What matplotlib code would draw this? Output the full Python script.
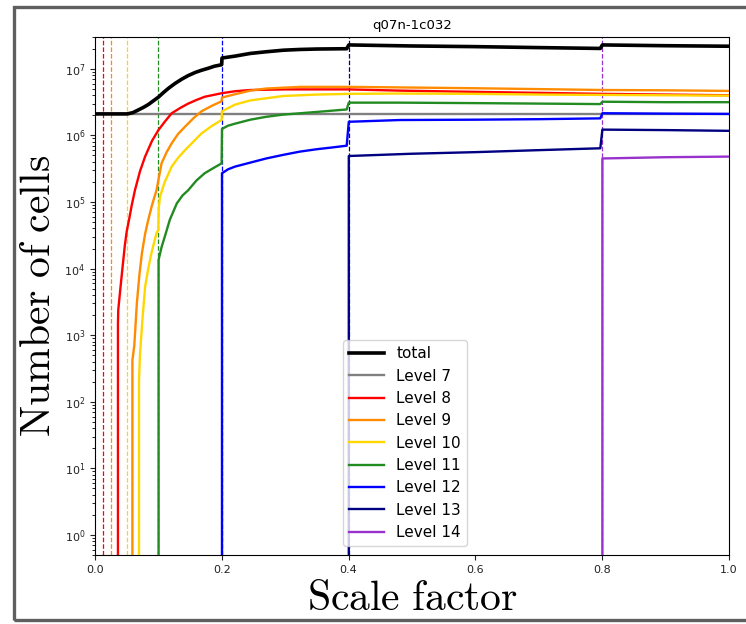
import matplotlib
matplotlib.use("Agg")
import matplotlib.pyplot as plt
from matplotlib.patches import Rectangle

plt.rcParams['mathtext.fontset'] = 'cm'

title = "q07n-1c032"

# scale factor / number of cells for each series
total_a = [0.0, 0.050, 0.053, 0.060, 0.068, 0.076, 0.084, 0.092, 0.100, 0.108, 0.116,
           0.126, 0.137, 0.147, 0.158, 0.168, 0.179, 0.188, 0.1997, 0.2003, 0.221,
           0.245, 0.270, 0.297, 0.323, 0.350, 0.397,
           0.4003, 0.500, 0.600, 0.700, 0.797, 0.8003, 0.900, 1.000]
total_n = [2.1e6, 2.1e6, 2.12e6, 2.2e6, 2.4e6, 2.62e6, 2.9e6, 3.3e6, 3.75e6, 4.4e6, 5.1e6,
           6.0e6, 7.0e6, 7.9e6, 8.8e6, 9.5e6, 1.02e7, 1.09e7, 1.15e7, 1.45e7, 1.55e7,
           1.7e7, 1.8e7, 1.9e7, 1.95e7, 1.98e7, 2.0e7,
           2.28e7, 2.2e7, 2.15e7, 2.08e7, 2.02e7, 2.28e7, 2.22e7, 2.18e7]

l7_a = [0.0, 1.0]
l7_n = [2.097e6, 2.097e6]

l8_a = [0.0, 0.0355, 0.0362, 0.0367, 0.040, 0.043, 0.047, 0.050, 0.054, 0.058, 0.063,
        0.071, 0.079, 0.090, 0.100, 0.110, 0.121, 0.135, 0.147, 0.160, 0.173, 0.187,
        0.200, 0.221, 0.245, 0.300, 0.350, 0.400, 0.480, 0.600, 0.700, 0.800, 0.900, 1.000]
l8_n = [0, 0, 1.5e3, 2.4e3, 5.0e3, 9.5e3, 2.2e4, 3.6e4, 5.6e4, 9.0e4, 1.5e5,
        2.9e5, 4.8e5, 8.3e5, 1.2e6, 1.6e6, 2.15e6, 2.6e6, 3.0e6, 3.4e6, 3.8e6, 4.05e6,
        4.3e6, 4.6e6, 4.8e6, 4.9e6, 4.9e6, 4.9e6, 4.7e6, 4.5e6, 4.35e6, 4.2e6, 4.1e6, 4.0e6]

l9_a = [0.0, 0.0585, 0.0590, 0.062, 0.066, 0.070, 0.074, 0.079, 0.084, 0.090, 0.097,
        0.105, 0.113, 0.121, 0.131, 0.142, 0.155, 0.168, 0.185, 0.1997, 0.2003, 0.221,
        0.245, 0.270, 0.324, 0.400, 0.480, 0.600, 0.700, 0.800, 0.900, 1.000]
l9_n = [0, 0, 4.2e2, 7.0e2, 3.0e3, 8.0e3, 1.7e4, 3.3e4, 5.4e4, 9.0e4, 1.5e5,
        3.8e5, 5.6e5, 7.6e5, 1.05e6, 1.35e6, 1.8e6, 2.3e6, 2.8e6, 3.25e6, 3.7e6, 4.15e6,
        4.7e6, 5.05e6, 5.35e6, 5.35e6, 5.25e6, 5.1e6, 4.95e6, 4.8e6, 4.75e6, 4.65e6]

l10_a = [0.0, 0.0690, 0.0694, 0.071, 0.075, 0.079, 0.084, 0.089, 0.097, 0.0999, 0.1005,
         0.1025, 0.110, 0.121, 0.131, 0.142, 0.155, 0.168, 0.185, 0.1997, 0.2003, 0.221,
         0.245, 0.297, 0.350, 0.400, 0.480, 0.600, 0.700, 0.800, 0.900, 1.000]
l10_n = [0, 0, 2.1e2, 5.2e2, 1.8e3, 5.3e3, 1.0e4, 1.7e4, 3.4e4, 3.8e4, 8.0e4,
         1.2e5, 2.0e5, 3.4e5, 4.6e5, 6.0e5, 8.0e5, 1.07e6, 1.4e6, 1.7e6, 2.3e6, 2.9e6,
         3.35e6, 3.9e6, 4.1e6, 4.2e6, 4.25e6, 4.2e6, 4.1e6, 4.05e6, 4.0e6, 3.95e6]

l11_a = [0.0, 0.1000, 0.1003, 0.105, 0.110, 0.118, 0.129, 0.138, 0.147, 0.160, 0.173,
         0.186, 0.1997, 0.2003, 0.210, 0.221, 0.245, 0.270, 0.297, 0.350, 0.397,
         0.4003, 0.480, 0.600, 0.700, 0.797, 0.8003, 0.900, 1.000]
l11_n = [0, 0, 1.35e4, 2.1e4, 3.0e4, 5.4e4, 9.5e4, 1.25e5, 1.5e5, 2.1e5, 2.7e5,
         3.2e5, 3.8e5, 1.25e6, 1.4e6, 1.5e6, 1.72e6, 1.9e6, 2.05e6, 2.25e6, 2.45e6,
         3.1e6, 3.1e6, 3.05e6, 3.0e6, 2.95e6, 3.2e6, 3.15e6, 3.15e6]

l12_a = [0.0, 0.2000, 0.2003, 0.210, 0.221, 0.245, 0.270, 0.297, 0.323, 0.350, 0.375, 0.397,
         0.4003, 0.481, 0.600, 0.700, 0.797, 0.8003, 0.900, 1.000]
l12_n = [0, 0, 2.7e5, 3.1e5, 3.4e5, 3.9e5, 4.5e5, 5.1e5, 5.7e5, 6.2e5, 6.6e5, 7.0e5,
         1.6e6, 1.7e6, 1.72e6, 1.75e6, 1.8e6, 2.15e6, 2.12e6, 2.1e6]

l13_a = [0.0, 0.4000, 0.4003, 0.500, 0.600, 0.700, 0.797, 0.8003, 0.900, 1.000]
l13_n = [0, 0, 4.9e5, 5.3e5, 5.6e5, 6.0e5, 6.4e5, 1.22e6, 1.2e6, 1.17e6]

l14_a = [0.0, 0.8000, 0.8003, 0.900, 1.000]
l14_n = [0, 0, 4.5e5, 4.7e5, 4.8e5]

labels = ["total", "Level 7", "Level 8", "Level 9", "Level 10", "Level 11",
          "Level 12", "Level 13", "Level 14"]
colors = ["black", "gray", "red", "darkorange", "gold", "forestgreen",
          "blue", "navy", "darkorchid"]

# refinement activation scale factors (dashed markers)
vline_a = [0.0125, 0.025, 0.05, 0.1, 0.2, 0.4, 0.8]
vline_colors = ["red", "darkorange", "gold", "forestgreen", "blue", "navy", "darkorchid"]

series = [(total_a, total_n), (l7_a, l7_n), (l8_a, l8_n), (l9_a, l9_n), (l10_a, l10_n),
          (l11_a, l11_n), (l12_a, l12_n), (l13_a, l13_n), (l14_a, l14_n)]

fig = plt.figure(figsize=(7.46, 6.24), dpi=100)
ax = fig.add_axes([95/746, 69/624, (729-95)/746, (555-37)/624])

for xv, c in zip(vline_a, vline_colors):
    ax.axvline(xv, color=c, ls='--', lw=0.9)

for i, ((a, n), lab, c) in enumerate(zip(series, labels, colors)):
    lw = 2.6 if i == 0 else 1.7
    ax.plot(a, n, color=c, lw=lw, label=lab, zorder=3 if i != 1 else 2.5)

ax.set_yscale('log')
ax.set_xlim(0, 1)
ax.set_ylim(0.5, 3e7)
ax.set_xticks([0.0, 0.2, 0.4, 0.6, 0.8, 1.0])
ax.tick_params(labelsize=8, colors='#222222')
ax.set_title(title, fontsize=9.5)
ax.set_xlabel(r'$\mathrm{Scale\ factor}$', fontsize=30, labelpad=2)
ax.set_ylabel(r'$\mathrm{Number\ of\ cells}$', fontsize=30, labelpad=4)

ax.legend(loc='lower left', bbox_to_anchor=(0.391, 0.017), borderaxespad=0,
          fontsize=11, handlelength=2.3, labelspacing=0.48)

fig.patches.append(Rectangle((13.5/746, 4.0/624), 1.2, (621.5-8.5)/624,
                             transform=fig.transFigure, fill=False,
                             edgecolor='#5f5f5f', lw=2.4, clip_on=False))

fig.savefig("out.png", dpi=100)
